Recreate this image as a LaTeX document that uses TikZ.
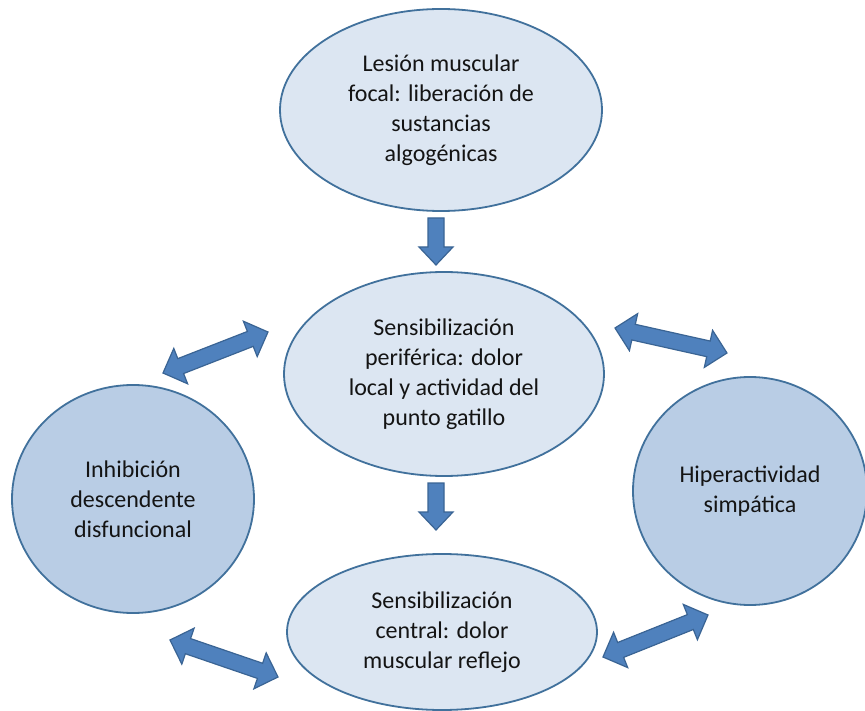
\documentclass[tikz,border=0pt]{standalone}
\usepackage{fontspec}
\setmainfont{Carlito}
\usetikzlibrary{shapes.geometric,calc}
\definecolor{edgeblue}{HTML}{41719C}
\definecolor{lightfill}{HTML}{DCE6F2}
\definecolor{midfill}{HTML}{B9CDE5}
\definecolor{arrowfill}{HTML}{4F81BD}
\definecolor{arrowedge}{HTML}{3A6494}
\definecolor{txt}{HTML}{141414}
\newcommand\arrowgeom[2]{\path let \p1=($(#2)-(#1)$) in \pgfextra{\pgfmathsetmacro\arrang{atan2(\y1,\x1)}\pgfmathsetmacro\arrlen{veclen(\x1,\y1)}\xdef\arrA{\arrang}\xdef\arrL{\arrlen}};}
\newcommand\twoway[2]{\arrowgeom{#1}{#2}%
  \begin{scope}[shift={(#1)}, rotate=\arrA, x=1pt, y=1pt]
    \draw[arrowbody] (0,0) -- (19,19) -- (19,8) -- (\arrL-19,8) -- (\arrL-19,19) -- (\arrL,0) -- (\arrL-19,-19) -- (\arrL-19,-8) -- (19,-8) -- (19,-19) -- cycle;
  \end{scope}}
\newcommand\oneway[2]{\arrowgeom{#1}{#2}%
  \begin{scope}[shift={(#1)}, rotate=\arrA, x=1pt, y=1pt]
    \draw[arrowbody] (0,8) -- (\arrL-18,8) -- (\arrL-18,17) -- (\arrL,0) -- (\arrL-18,-17) -- (\arrL-18,-8) -- (0,-8) -- cycle;
  \end{scope}}
\begin{document}
\begin{tikzpicture}[x=1pt,y=-1pt,
  bubble/.style={ellipse, draw=edgeblue, line width=1.8pt, fill=lightfill, inner sep=0pt, align=center, font=\fontsize{24}{30}\selectfont, text=txt},
  darkbubble/.style={bubble, fill=midfill},
  arrowbody/.style={draw=arrowedge, fill=arrowfill, line width=1.2pt, line join=miter},
]
\useasboundingbox (0,0) rectangle (865,711);
\fill[white] (0,0) rectangle (865,711);
\node[bubble, minimum width=322pt, minimum height=202pt] (lesion) at (441,110) {Lesión muscular\\focal: liberación de\\sustancias\\algogénicas};
\node[bubble, minimum width=320pt, minimum height=204pt] (periferica) at (444,374) {Sensibilización\\periférica: dolor\\local y actividad del\\punto gatillo};
\node[bubble, minimum width=310pt, minimum height=156pt] (central) at (442,632) {Sensibilización\\central: dolor\\muscular reflejo};
\node[darkbubble, minimum width=242pt, minimum height=228pt] (inhib) at (133,499) {Inhibición\\descendente\\disfuncional};
\node[darkbubble, minimum width=234pt, minimum height=228pt] (hiper) at (750,491) {Hiperactividad\\simpática};
% arrow end points
\coordinate (d1s) at (436,218); \coordinate (d1e) at (436,265);
\coordinate (d2s) at (436,483); \coordinate (d2e) at (436,530);
\coordinate (ul1) at (163,373); \coordinate (ul2) at (268,332);
\coordinate (ur1) at (615,328); \coordinate (ur2) at (727,353);
\coordinate (ll1) at (170,640); \coordinate (ll2) at (278,677);
\coordinate (lr1) at (603,657); \coordinate (lr2) at (708,615);
\oneway{d1s}{d1e}
\oneway{d2s}{d2e}
\twoway{ul1}{ul2}
\twoway{ur1}{ur2}
\twoway{ll1}{ll2}
\twoway{lr1}{lr2}
\end{tikzpicture}
\end{document}
